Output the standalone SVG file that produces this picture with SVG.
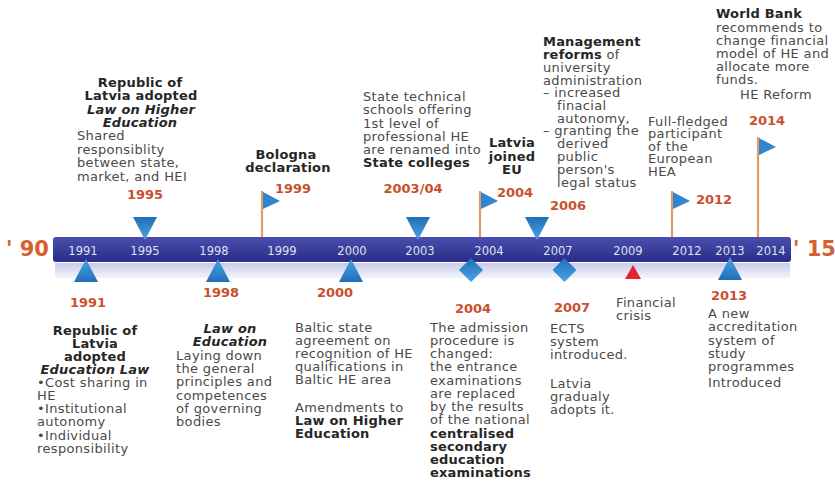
<svg xmlns="http://www.w3.org/2000/svg" width="835" height="484" viewBox="0 0 835 484">
<defs>
<linearGradient id="barG" x1="0" y1="0" x2="0" y2="1"><stop offset="0" stop-color="#4a4fae"/><stop offset="1" stop-color="#292c88"/></linearGradient>
<linearGradient id="shG" x1="0" y1="0" x2="0" y2="1"><stop offset="0" stop-color="#c9cbe9"/><stop offset="1" stop-color="#f3f4fb"/></linearGradient>
<linearGradient id="mkG" x1="0" y1="0" x2="0" y2="1"><stop offset="0" stop-color="#1f6fb8"/><stop offset="1" stop-color="#4aa3e3"/></linearGradient>
<linearGradient id="mkU" x1="0" y1="0" x2="0" y2="1"><stop offset="0" stop-color="#4aa3e3"/><stop offset="1" stop-color="#1f6fb8"/></linearGradient>
<style>
.t{font-family:"DejaVu Sans",Verdana,sans-serif;font-size:13px;letter-spacing:0.35px;fill:#4a4a4a}
.b{font-weight:bold;fill:#262626;letter-spacing:0.2px}
.i{font-style:italic}
.m{text-anchor:middle}
.yr{font-family:"DejaVu Sans",Verdana,sans-serif;font-weight:bold;font-size:13px;fill:#c8502c;text-anchor:middle}
.bar{font-family:"DejaVu Sans",Verdana,sans-serif;font-size:11.5px;fill:#dfe0f0;text-anchor:middle}
.end{font-family:"DejaVu Sans",Verdana,sans-serif;font-weight:bold;font-size:21px;fill:#d6602c}
.pole{stroke:#eb9a5e;stroke-width:2.2;fill:none}
.flag{fill:#2f86cf}
.dn{fill:url(#mkG)}
.up{fill:url(#mkU)}
</style>
</defs>
<rect width="835" height="484" fill="#ffffff"/>

<g id="connectors">
<line class="pole" x1="262" y1="191" x2="262" y2="238"/>
<line class="pole" x1="480" y1="191" x2="480" y2="238"/>
<line class="pole" x1="672" y1="191" x2="672" y2="238"/>
<line class="pole" x1="758" y1="137" x2="758" y2="238"/>
</g>

<g id="timeline">
<rect x="55" y="263" width="735" height="15" fill="url(#shG)"/>
<rect x="53" y="237" width="738" height="25" rx="3" fill="url(#barG)"/>
<text class="end" x="6" y="256">' 90</text>
<text class="end" x="793" y="256">' 15</text>
<text class="bar" x="83" y="255">1991</text>
<text class="bar" x="145" y="255">1995</text>
<text class="bar" x="214" y="255">1998</text>
<text class="bar" x="282" y="255">1999</text>
<text class="bar" x="352" y="255">2000</text>
<text class="bar" x="420" y="255">2003</text>
<text class="bar" x="489" y="255">2004</text>
<text class="bar" x="558" y="255">2007</text>
<text class="bar" x="628" y="255">2009</text>
<text class="bar" x="687" y="255">2012</text>
<text class="bar" x="730" y="255">2013</text>
<text class="bar" x="771" y="255">2014</text>
</g>

<g id="e1991">
<polygon class="up" points="86,259 74,282 98,282"/>
<text class="yr" x="88" y="307">1991</text>
<text class="t b m" x="95" y="335">Republic of</text>
<text class="t b m" x="95" y="348">Latvia</text>
<text class="t b m" x="95" y="361">adopted</text>
<text class="t b i m" x="95" y="374">Education Law</text>
<text class="t" x="37" y="387">•Cost sharing in</text>
<text class="t" x="37" y="400">HE</text>
<text class="t" x="37" y="413">•Institutional</text>
<text class="t" x="37" y="426">autonomy</text>
<text class="t" x="37" y="440">•Individual</text>
<text class="t" x="37" y="453">responsibility</text>
</g>

<g id="e1995">
<polygon class="dn" points="133,217 157,217 145,240"/>
<text class="yr" x="145" y="199">1995</text>
<text class="t b m" x="140" y="87">Republic of</text>
<text class="t b m" x="141" y="100">Latvia adopted</text>
<text class="t b i m" x="141" y="113.5">Law on Higher</text>
<text class="t b i m" x="140" y="127">Education</text>
<text class="t" x="77" y="140">Shared</text>
<text class="t" x="77" y="153.5">responsiblity</text>
<text class="t" x="77" y="167">between state,</text>
<text class="t" x="77" y="180.5">market, and HEI</text>
</g>

<g id="e1998">
<polygon class="up" points="218,259 206,282 230,282"/>
<text class="yr" x="221" y="297">1998</text>
<text class="t b i m" x="230" y="333">Law on</text>
<text class="t b i m" x="230" y="346">Education</text>
<text class="t" x="176" y="360">Laying down</text>
<text class="t" x="176" y="373">the general</text>
<text class="t" x="176" y="386">principles and</text>
<text class="t" x="176" y="400">competences</text>
<text class="t" x="176" y="413">of governing</text>
<text class="t" x="176" y="426">bodies</text>
</g>

<g id="e1999">
<polygon class="flag" points="263,192 263,209 280,201"/>
<text class="yr" x="293" y="193">1999</text>
<text class="t b m" x="286" y="159">Bologna</text>
<text class="t b m" x="288" y="172">declaration</text>
</g>

<g id="e2000">
<polygon class="up" points="351,259 339,282 363,282"/>
<text class="yr" x="335" y="297">2000</text>
<text class="t" x="295" y="332">Baltic state</text>
<text class="t" x="295" y="345">agreement on</text>
<text class="t" x="295" y="358">recognition of HE</text>
<text class="t" x="295" y="371">qualifications in</text>
<text class="t" x="295" y="384">Baltic HE area</text>
<text class="t" x="295" y="412">Amendments to</text>
<text class="t b" x="295" y="425">Law on Higher</text>
<text class="t b" x="295" y="438">Education</text>
</g>

<g id="e2003">
<polygon class="dn" points="406,217 430,217 418,240"/>
<text class="yr" x="413" y="193">2003/04</text>
<text class="t" x="363" y="101">State technical</text>
<text class="t" x="363" y="114">schools offering</text>
<text class="t" x="363" y="127.5">1st level of</text>
<text class="t" x="363" y="140.5">professional HE</text>
<text class="t" x="363" y="154">are renamed into</text>
<text class="t b" x="363" y="167">State colleges</text>
</g>

<g id="e2004eu">
<polygon class="flag" points="481,192 481,209 498,201"/>
<text class="yr" x="515" y="197">2004</text>
<text class="t b m" x="512" y="147">Latvia</text>
<text class="t b m" x="512" y="160.5">joined</text>
<text class="t b m" x="512" y="174">EU</text>
</g>

<g id="e2004adm">
<polygon class="dn" points="471,258 483,270 471,282 459,270"/>
<text class="yr" x="473" y="313">2004</text>
<text class="t" x="430" y="332">The admission</text>
<text class="t" x="430" y="345">procedure is</text>
<text class="t" x="430" y="358">changed:</text>
<text class="t" x="430" y="371">the entrance</text>
<text class="t" x="430" y="384.5">examinations</text>
<text class="t" x="430" y="398">are replaced</text>
<text class="t" x="430" y="411">by the results</text>
<text class="t" x="430" y="424">of the national</text>
<text class="t b" x="430" y="437.5">centralised</text>
<text class="t b" x="430" y="451">secondary</text>
<text class="t b" x="430" y="464">education</text>
<text class="t b" x="430" y="477">examinations</text>
</g>

<g id="e2006">
<polygon class="dn" points="525,217 549,217 537,240"/>
<text class="yr" x="568" y="210">2006</text>
<text class="t b" x="543" y="46">Management</text>
<text class="t" x="543" y="59"><tspan class="b">reforms</tspan> of</text>
<text class="t" x="543" y="72">university</text>
<text class="t" x="543" y="84.5">administration</text>
<text class="t" x="543" y="97">– increased</text>
<text class="t" x="557" y="110">finacial</text>
<text class="t" x="557" y="122.5">autonomy,</text>
<text class="t" x="543" y="135">– granting the</text>
<text class="t" x="557" y="148">derived</text>
<text class="t" x="557" y="160.5">public</text>
<text class="t" x="557" y="173.5">person's</text>
<text class="t" x="557" y="186.5">legal status</text>
</g>

<g id="e2007">
<polygon class="dn" points="564.5,258 576.5,270 564.5,282 552.5,270"/>
<text class="yr" x="572" y="312">2007</text>
<text class="t" x="550" y="333">ECTS</text>
<text class="t" x="550" y="346">system</text>
<text class="t" x="550" y="359">introduced.</text>
<text class="t" x="550" y="388">Latvia</text>
<text class="t" x="550" y="401">gradualy</text>
<text class="t" x="550" y="414">adopts it.</text>
</g>

<g id="e2009">
<polygon points="633,265 641,279 625,279" fill="#e3262b"/>
<text class="t" x="616" y="307">Financial</text>
<text class="t" x="616" y="320">crisis</text>
</g>

<g id="e2012">
<polygon class="flag" points="673,192 673,209 690,201"/>
<text class="yr" x="714" y="204">2012</text>
<text class="t" x="648" y="125.5">Full-fledged</text>
<text class="t" x="648" y="138">participant</text>
<text class="t" x="648" y="150.5">of the</text>
<text class="t" x="648" y="163">European</text>
<text class="t" x="648" y="175.5">HEA</text>
</g>

<g id="e2013">
<polygon class="up" points="730,257 718,280 742,280"/>
<text class="yr" x="729" y="300">2013</text>
<text class="t" x="708" y="318">A new</text>
<text class="t" x="708" y="331">accreditation</text>
<text class="t" x="708" y="344.5">system of</text>
<text class="t" x="708" y="357.5">study</text>
<text class="t" x="708" y="371">programmes</text>
<text class="t" x="708" y="387">Introduced</text>
</g>

<g id="e2014">
<polygon class="flag" points="759,138 759,155 776,147"/>
<text class="yr" x="767" y="125">2014</text>
<text class="t b" x="716" y="18">World Bank</text>
<text class="t" x="716" y="31.5">recommends to</text>
<text class="t" x="716" y="44.5">change financial</text>
<text class="t" x="716" y="57.5">model of HE and</text>
<text class="t" x="716" y="70.5">allocate more</text>
<text class="t" x="716" y="83.5">funds.</text>
<text class="t" x="740" y="99">HE Reform</text>
</g>
</svg>
